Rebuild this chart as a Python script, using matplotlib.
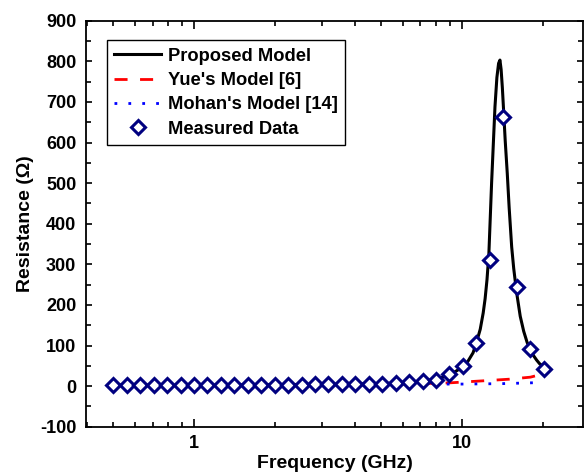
import matplotlib
matplotlib.use("Agg")
import matplotlib.pyplot as plt
from matplotlib.ticker import LogLocator, NullFormatter, FixedLocator, FixedFormatter, MultipleLocator

plt.rcParams['font.family'] = ['Liberation Sans', 'DejaVu Sans']
plt.rcParams['font.weight'] = 'bold'
plt.rcParams['axes.unicode_minus'] = False

# Measured data
freq_meas = [0.50, 0.56, 0.63, 0.71, 0.79, 0.89, 1.00, 1.12, 1.26, 1.41, 1.59, 1.78,
             2.00, 2.24, 2.52, 2.83, 3.17, 3.56, 4.00, 4.49, 5.04, 5.66, 6.35, 7.13,
             8.00, 8.98, 10.08, 11.31, 12.70, 14.25, 15.99, 17.96, 20.16]
res_meas = [2, 2, 2, 2, 2, 2, 2, 2, 2, 2, 3, 3,
            3, 3, 3, 4, 4, 4, 5, 5, 6, 7, 9, 12,
            16, 29, 50, 107, 310, 662, 244, 91, 43]

# Proposed model
freq_prop = [0.50, 1.0, 2.0, 3.0, 4.0, 5.0, 6.0, 7.0, 8.0, 9.0, 10.0, 10.5, 11.0, 11.3,
             11.7, 12.0, 12.2, 12.4, 12.6, 12.9, 13.1, 13.28, 13.5, 13.7, 13.86, 14.0,
             14.15, 14.3, 14.5, 14.76, 15.0, 15.33, 15.6, 16.0, 16.5, 17.0, 17.5, 18.0,
             18.5, 19.0, 19.5, 20.1]
res_prop = [2, 2, 3, 4, 5, 6, 8, 11, 17, 27, 46, 60, 82, 105,
            140, 180, 215, 262, 325, 500, 600, 688, 760, 795, 803, 780,
            735, 680, 605, 524, 440, 343, 290, 230, 172, 135, 108, 89,
            75, 64, 55, 48]

# Yue's model
freq_yue = [0.50, 1.0, 2.0, 5.0, 7.0, 9.0, 12.0, 15.0, 18.0, 20.1]
res_yue = [1, 1, 2, 4, 6, 8, 13, 17, 22, 30]

# Mohan's model
freq_mohan = [0.50, 1.0, 2.0, 5.0, 8.0, 10.0, 14.0, 18.0, 20.1]
res_mohan = [1, 1, 2, 3, 5, 5, 6, 8, 9]

x_ticks = [1, 10]
x_ticklabels = ['1', '10']
y_ticks = [-100, 0, 100, 200, 300, 400, 500, 600, 700, 800, 900]

fig = plt.figure(figsize=(5.85, 4.72), dpi=100)
ax = fig.add_axes([86/585, (472-426.7)/472, (583-86)/585, (426.7-20.7)/472])

ax.plot(freq_prop, res_prop, color='black', lw=2.2, label='Proposed Model', zorder=3)
ax.plot(freq_yue, res_yue, color='red', lw=2.0, linestyle=(0, (4.7, 4.5)), label="Yue's Model [6]", zorder=2)
ax.plot(freq_mohan, res_mohan, color='blue', lw=2.0, linestyle=(0, (1, 4)), label="Mohan's Model [14]", zorder=2)
ax.plot(freq_meas, res_meas, linestyle='none', marker='D', markersize=7,
        markerfacecolor='white', markeredgecolor='#000080', markeredgewidth=2.2,
        label='Measured Data', zorder=4)

ax.set_xscale('log')
ax.set_xlim(0.395, 28.3)
ax.set_ylim(-100, 900)
ax.xaxis.set_major_locator(FixedLocator(x_ticks))
ax.xaxis.set_major_formatter(FixedFormatter(x_ticklabels))
ax.xaxis.set_minor_locator(LogLocator(base=10, subs=[2, 3, 4, 5, 6, 7, 8, 9]))
ax.xaxis.set_minor_formatter(NullFormatter())
ax.yaxis.set_major_locator(FixedLocator(y_ticks))
ax.yaxis.set_minor_locator(MultipleLocator(50))

ax.tick_params(which='both', direction='in', top=True, right=True, width=1.2,
               labelsize=13)
ax.tick_params(axis='x', which='major', length=6, pad=6)
ax.tick_params(axis='x', which='minor', length=3.5)
ax.tick_params(axis='y', which='major', length=4, pad=7)
ax.tick_params(axis='y', which='minor', length=3.5)
for lab in ax.get_xticklabels() + ax.get_yticklabels():
    lab.set_fontweight('bold')
for sp in ax.spines.values():
    sp.set_linewidth(1.3)

ax.set_xlabel('Frequency (GHz)', fontsize=14, fontweight='bold', labelpad=2)
ax.set_ylabel('Resistance (Ω)', fontsize=14, fontweight='bold', labelpad=4)

leg = ax.legend(loc='upper left', bbox_to_anchor=(0.0417, 0.9525), borderaxespad=0,
                frameon=True, fancybox=False, shadow=False, framealpha=1,
                edgecolor='black', prop={'size': 13.2, 'weight': 'bold'},
                handlelength=2.55, handletextpad=0.35, labelspacing=0.4,
                borderpad=0.42, numpoints=1)
leg.get_frame().set_linewidth(1.0)

fig.savefig('out.png', dpi=100)
